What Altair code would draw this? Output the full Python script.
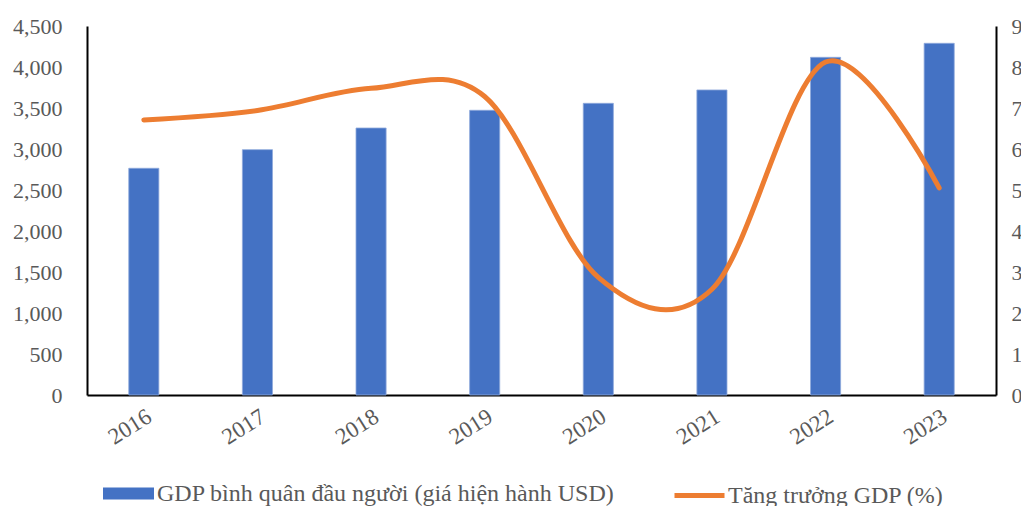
import altair as alt
import pandas as pd

years = ["2016", "2017", "2018", "2019", "2020", "2021", "2022", "2023"]
gdp_per_capita = [2765, 2992, 3256, 3472, 3557, 3720, 4118, 4289]
gdp_growth = [6.71, 6.94, 7.48, 7.28, 2.87, 2.58, 8.12, 5.05]
left_ticks = [0, 500, 1000, 1500, 2000, 2500, 3000, 3500, 4000, 4500]
right_ticks = [0, 1, 2, 3, 4, 5, 6, 7, 8, 9]

bar_name = "GDP bình quân đầu người (giá hiện hành USD)"
line_name = "Tăng trưởng GDP (%)"

df = pd.DataFrame({
    "year": years,
    "gdp": gdp_per_capita,
    "growth": gdp_growth,
    "bar_s": [bar_name] * len(years),
    "line_s": [line_name] * len(years),
})

FONT = "Liberation Serif"
GRAY = "#595959"
FS = 22
LFS = 24

x = alt.X(
    "year:O",
    title=None,
    scale=alt.Scale(paddingInner=0.735, paddingOuter=0.3675),
    axis=alt.Axis(
        labelAngle=-32, labelAlign="right", labelBaseline="top",
        labelFont=FONT, labelFontSize=23, labelColor=GRAY, labelPadding=10,
        ticks=False, domainColor="black", domainWidth=2,
    ),
)

bars = alt.Chart(df).mark_bar(color="#4472C4", stroke="#8FAADC", strokeWidth=0.8).encode(
    x=x,
    y=alt.Y(
        "gdp:Q", title=None,
        scale=alt.Scale(domain=[0, 4500], nice=False),
        axis=alt.Axis(
            values=left_ticks, format=",.0f", grid=False, ticks=False,
            labelFont=FONT, labelFontSize=FS, labelColor=GRAY, labelPadding=25,
            domainColor="black", domainWidth=2,
        ),
    ),
    fill=alt.Fill(
        "bar_s:N", title=None,
        scale=alt.Scale(domain=[bar_name], range=["#4472C4"]),
        legend=alt.Legend(
            orient="none", legendX=16, legendY=442, padding=0,
            symbolType="M-1,-0.235H1V0.235H-1Z", symbolSize=2601,
            symbolStrokeWidth=0, symbolOpacity=1,
            labelFont=FONT, labelFontSize=LFS, labelColor=GRAY, labelLimit=0,
            labelOffset=3,
        ),
    ),
)

line = alt.Chart(df).mark_line(strokeWidth=5, interpolate="cardinal", strokeCap="round").encode(
    x=x,
    y=alt.Y(
        "growth:Q", title=None,
        scale=alt.Scale(domain=[0, 9], nice=False),
        axis=alt.Axis(
            orient="right", values=right_ticks, grid=False, ticks=False,
            labelFont=FONT, labelFontSize=FS, labelColor=GRAY, labelPadding=15,
            domainColor="black", domainWidth=2,
        ),
    ),
    stroke=alt.Stroke(
        "line_s:N", title=None,
        scale=alt.Scale(domain=[line_name], range=["#ED7D31"]),
        legend=alt.Legend(
            orient="none", legendX=585, legendY=442, padding=0,
            symbolType="stroke", symbolSize=2500, symbolStrokeWidth=5,
            labelFont=FONT, labelFontSize=LFS, labelColor=GRAY, labelLimit=0,
            labelOffset=1,
        ),
    ),
)

chart = alt.layer(bars, line).resolve_scale(y="independent").properties(
    width=909,
    height=369,
    background="white",
    autosize=alt.AutoSizeParams(type="none"),
    padding={"left": 79, "top": 18, "right": 25, "bottom": 111},
).configure_view(stroke=None)

chart.save("out.html", embed_options={"renderer": "svg", "actions": False})
